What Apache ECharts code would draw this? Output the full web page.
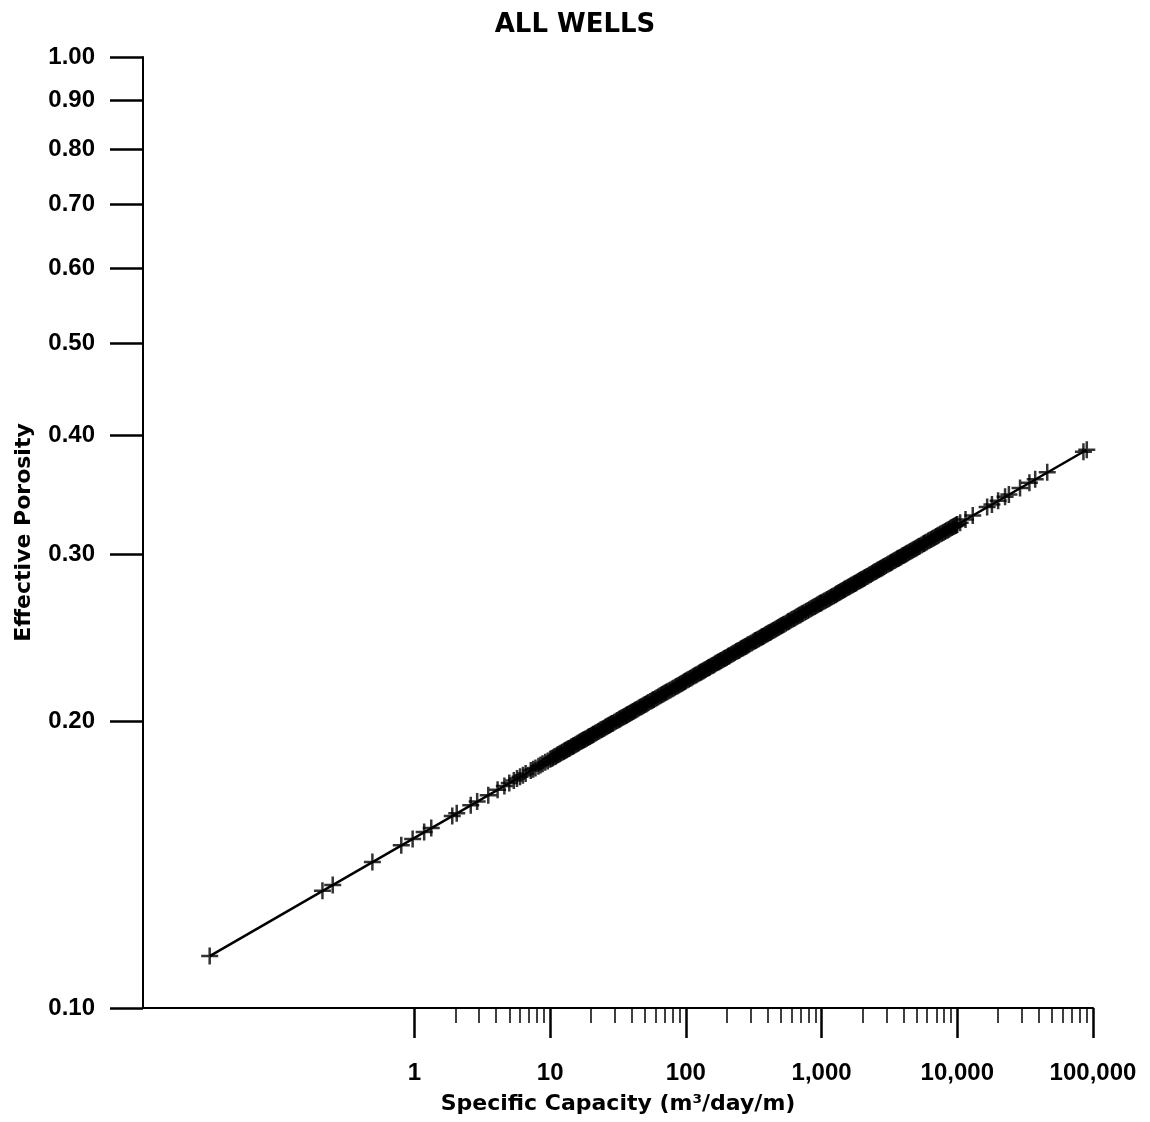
<!DOCTYPE html>
<html>
<head>
<meta charset="utf-8">
<script src="https://cdn.jsdelivr.net/npm/echarts@6/dist/echarts.min.js"></script>
<style>
  html, body { margin: 0; padding: 0; background: #fff; }
  #chart { width: 1150px; height: 1122px; }
</style>
</head>
<body>
<div id="chart"></div>
<script>
// specific capacity (m3/day/m) of each well
var capacity = [
    0.031, 0.21, 0.25, 0.49, 0.8, 0.97, 1.18, 1.33, 1.9, 2.05, 2.6, 2.9, 3.5, 4.1, 4.6, 5.0, 5.4, 5.7, 6.0, 6.3, 6.6, 7.2, 7.5, 7.8, 8.2, 8.5, 8.8, 9.2, 9.6,
    10, 10.5, 11, 11.5, 12, 12.6, 13, 13.5, 14, 14.6, 15, 15.7, 16.3, 17, 17.6, 18.2, 19, 19.6, 20.4, 21, 22, 23, 24, 25, 26, 27, 28, 29,
    30.5, 32, 33, 34.5, 36, 37, 38.5, 40, 41.5, 43, 45, 47, 49, 51, 53, 56, 58, 61, 64, 67, 70, 73, 77, 81, 85, 89, 93, 97,
    100, 105, 110, 115, 120, 126, 130, 135, 140, 146, 150, 157, 163, 170, 176, 182, 190, 196, 204, 210, 220, 230, 240, 250, 260, 270, 280, 290,
    305, 320, 330, 345, 360, 370, 385, 400, 415, 430, 450, 470, 490, 510, 530, 560, 580, 610, 640, 670, 700, 730, 770, 810, 850, 890, 930, 970,
    1000, 1050, 1100, 1150, 1200, 1260, 1300, 1350, 1400, 1460, 1500, 1570, 1630, 1700, 1760, 1820, 1900, 1960, 2040, 2100, 2200, 2300, 2400, 2500, 2600, 2700, 2800, 2900,
    3050, 3200, 3300, 3450, 3600, 3700, 3850, 4000, 4150, 4300, 4500, 4700, 4900, 5100, 5300, 5600, 5800, 6100, 6400, 6700, 7000, 7300, 7700, 8100, 8500, 8900, 9300, 9700,
    10000, 10500, 11500, 13000, 16600, 18000, 20000, 22500, 24000, 29000, 34000, 37500, 46000, 85000, 90000
];
// effective porosity of each well
var porosity = [
    0.1134, 0.1328, 0.1347, 0.1424, 0.1483, 0.1506, 0.1531, 0.1546, 0.1592, 0.1602, 0.1634, 0.1649, 0.1674, 0.1696, 0.1712, 0.1724, 0.1735, 0.1743, 0.1750, 0.1757, 0.1764, 0.1777, 0.1783, 0.1788, 0.1796, 0.1801, 0.1806, 0.1813, 0.1819,
    0.1826, 0.1833, 0.1840, 0.1847, 0.1854, 0.1861, 0.1866, 0.1872, 0.1877, 0.1884, 0.1888, 0.1895, 0.1901, 0.1908, 0.1913, 0.1918, 0.1925, 0.1930, 0.1936, 0.1941, 0.1949, 0.1956, 0.1963, 0.1969, 0.1976, 0.1982, 0.1988, 0.1993,
    0.2002, 0.2010, 0.2015, 0.2022, 0.2029, 0.2034, 0.2040, 0.2047, 0.2053, 0.2059, 0.2067, 0.2074, 0.2081, 0.2088, 0.2095, 0.2104, 0.2111, 0.2119, 0.2128, 0.2136, 0.2144, 0.2151, 0.2160, 0.2169, 0.2178, 0.2186, 0.2194, 0.2202,
    0.2208, 0.2217, 0.2225, 0.2234, 0.2241, 0.2250, 0.2256, 0.2263, 0.2270, 0.2278, 0.2283, 0.2292, 0.2299, 0.2307, 0.2313, 0.2320, 0.2328, 0.2334, 0.2342, 0.2347, 0.2356, 0.2365, 0.2373, 0.2381, 0.2389, 0.2396, 0.2403, 0.2410,
    0.2420, 0.2430, 0.2436, 0.2445, 0.2454, 0.2459, 0.2467, 0.2475, 0.2483, 0.2490, 0.2499, 0.2508, 0.2517, 0.2525, 0.2533, 0.2545, 0.2552, 0.2563, 0.2573, 0.2583, 0.2592, 0.2601, 0.2612, 0.2623, 0.2634, 0.2644, 0.2653, 0.2663,
    0.2668, 0.2679, 0.2689, 0.2699, 0.2708, 0.2719, 0.2726, 0.2735, 0.2743, 0.2753, 0.2759, 0.2769, 0.2778, 0.2787, 0.2795, 0.2803, 0.2813, 0.2820, 0.2829, 0.2836, 0.2847, 0.2857, 0.2868, 0.2877, 0.2887, 0.2896, 0.2904, 0.2913,
    0.2925, 0.2936, 0.2944, 0.2955, 0.2965, 0.2972, 0.2981, 0.2991, 0.3000, 0.3009, 0.3020, 0.3031, 0.3041, 0.3051, 0.3061, 0.3075, 0.3084, 0.3097, 0.3109, 0.3121, 0.3132, 0.3143, 0.3157, 0.3170, 0.3182, 0.3195, 0.3206, 0.3217,
    0.3225, 0.3237, 0.3263, 0.3296, 0.3363, 0.3385, 0.3415, 0.3449, 0.3467, 0.3522, 0.3568, 0.3597, 0.3658, 0.3846, 0.3864
];
// more wells in the crowded middle of the cloud
var capacityDense = [
    10.25, 10.75, 11.25, 11.75, 12.3, 12.8, 13.25, 13.75, 14.3, 14.8, 15.35, 16, 16.6, 17.3, 17.9, 18.6, 19.3, 20, 20.7, 21.5, 22.5, 23.5, 24.5, 25.5, 26.5, 27.5, 28.5, 29.7,
    31.2, 32.5, 33.7, 35.2, 36.5, 37.7, 39.2, 40.7, 42.2, 44, 46, 48, 50, 52, 54.5, 57, 59.5, 62.5, 65.5, 68.5, 71.5, 75, 79, 83, 87, 91, 95, 98.5,
    102.5, 107.5, 112.5, 117.5, 123, 128, 132.5, 137.5, 143, 148, 153.5, 160, 166, 173, 179, 186, 193, 200, 207, 215, 225, 235, 245, 255, 265, 275, 285, 297,
    312, 325, 337, 352, 365, 377, 392, 407, 422, 440, 460, 480, 500, 520, 545, 570, 595, 625, 655, 685, 715, 750, 790, 830, 870, 910, 950, 985,
    1025, 1075, 1125, 1175, 1230, 1280, 1325, 1375, 1430, 1480, 1535, 1600, 1660, 1730, 1790, 1860, 1930, 2000, 2070, 2150, 2250, 2350, 2450, 2550, 2650, 2750, 2850, 2970,
    3120, 3250, 3370, 3520, 3650, 3770, 3920, 4070, 4220, 4400, 4600, 4800, 5000, 5200, 5450, 5700, 5950, 6250, 6550, 6850, 7150, 7500, 7900, 8300, 8700, 9100, 9500, 9850
];
var porosityDense = [
    0.1830, 0.1837, 0.1844, 0.1851, 0.1858, 0.1864, 0.1869, 0.1875, 0.1881, 0.1886, 0.1892, 0.1898, 0.1905, 0.1911, 0.1916, 0.1922, 0.1928, 0.1933, 0.1939, 0.1945, 0.1953, 0.1960, 0.1966, 0.1973, 0.1979, 0.1985, 0.1991, 0.1998,
    0.2006, 0.2013, 0.2019, 0.2026, 0.2032, 0.2037, 0.2044, 0.2050, 0.2056, 0.2063, 0.2071, 0.2078, 0.2085, 0.2092, 0.2100, 0.2108, 0.2115, 0.2124, 0.2132, 0.2140, 0.2148, 0.2156, 0.2165, 0.2174, 0.2182, 0.2190, 0.2198, 0.2205,
    0.2213, 0.2221, 0.2230, 0.2238, 0.2247, 0.2254, 0.2260, 0.2267, 0.2275, 0.2281, 0.2288, 0.2295, 0.2304, 0.2311, 0.2317, 0.2324, 0.2331, 0.2337, 0.2345, 0.2352, 0.2361, 0.2370, 0.2377, 0.2386, 0.2393, 0.2400, 0.2408, 0.2416,
    0.2426, 0.2434, 0.2441, 0.2450, 0.2457, 0.2463, 0.2472, 0.2479, 0.2486, 0.2495, 0.2504, 0.2513, 0.2521, 0.2529, 0.2539, 0.2549, 0.2558, 0.2568, 0.2578, 0.2588, 0.2597, 0.2607, 0.2618, 0.2629, 0.2639, 0.2649, 0.2658, 0.2666,
    0.2674, 0.2684, 0.2694, 0.2704, 0.2714, 0.2723, 0.2731, 0.2739, 0.2748, 0.2756, 0.2764, 0.2773, 0.2783, 0.2792, 0.2799, 0.2808, 0.2817, 0.2824, 0.2833, 0.2842, 0.2853, 0.2864, 0.2873, 0.2883, 0.2891, 0.2900, 0.2909, 0.2919,
    0.2931, 0.2941, 0.2949, 0.2960, 0.2969, 0.2976, 0.2987, 0.2995, 0.3004, 0.3015, 0.3026, 0.3036, 0.3046, 0.3056, 0.3068, 0.3080, 0.3091, 0.3103, 0.3115, 0.3127, 0.3138, 0.3150, 0.3163, 0.3176, 0.3188, 0.3200, 0.3211, 0.3221
];
// fitted line end points
var fitCapacity = [0.031, 90000];
var fitPorosity = [0.1134, 0.3864];

var xMajorTicks = [1, 10, 100, 1000, 10000, 100000];
var xMinorTicks = [
    2, 3, 4, 5, 6, 7, 8, 9,
    20, 30, 40, 50, 60, 70, 80, 90,
    200, 300, 400, 500, 600, 700, 800, 900,
    2000, 3000, 4000, 5000, 6000, 7000, 8000, 9000,
    20000, 30000, 40000, 50000, 60000, 70000, 80000, 90000
];
var yTicks = [0.1, 0.2, 0.3, 0.4, 0.5, 0.6, 0.7, 0.8, 0.9, 1.0];

var font = '"Liberation Sans", Arial, sans-serif';
var wideFont = '"DejaVu Sans", "Liberation Sans", sans-serif';

var wells = capacity.map(function (c, i) { return [c, porosity[i]]; })
    .concat(capacityDense.map(function (c, i) { return [c, porosityDense[i]]; }));
var fit = fitCapacity.map(function (c, i) { return [c, fitPorosity[i]]; });

var chart = echarts.init(document.getElementById('chart'));

chart.setOption({
    backgroundColor: '#fff',
    animation: false,
    title: {
        text: 'ALL WELLS',
        left: 'center',
        top: 7,
        textStyle: { fontFamily: wideFont, fontSize: 26, fontWeight: 'bold', color: '#000' }
    },
    grid: { left: 143, right: 57, top: 57, bottom: 114, outerBoundsMode: 'none' },
    xAxis: [{
        type: 'log',
        logBase: 10,
        min: 0.01,
        max: 100000,
        name: 'Specific Capacity (m\u00b3/day/m)',
        nameLocation: 'middle',
        nameGap: 85,
        nameTextStyle: { fontFamily: wideFont, fontSize: 22, fontWeight: 'bold', color: '#000' },
        axisLine: { lineStyle: { color: '#000', width: 2 } },
        axisTick: { customValues: xMajorTicks, length: 30, lineStyle: { color: '#000', width: 2.5 } },
        axisLabel: {
            customValues: xMajorTicks,
            margin: 53,
            fontFamily: font, fontSize: 24, fontWeight: 'bold', color: '#000',
            formatter: function (v) { return Math.round(v).toLocaleString('en-US'); }
        },
        splitLine: { show: false }
    }, {
        type: 'log',
        logBase: 10,
        min: 0.01,
        max: 100000,
        position: 'bottom',
        axisLine: { show: false },
        axisTick: { customValues: xMinorTicks, length: 15, lineStyle: { color: '#000', width: 1.5 } },
        axisLabel: { show: false },
        splitLine: { show: false }
    }],
    yAxis: {
        type: 'log',
        logBase: 10,
        min: 0.1,
        max: 1,
        name: 'Effective Porosity',
        nameLocation: 'middle',
        nameGap: 108,
        nameRotate: 90,
        nameTextStyle: { fontFamily: wideFont, fontSize: 22, fontWeight: 'bold', color: '#000' },
        axisLine: { lineStyle: { color: '#000', width: 2 } },
        axisTick: { customValues: yTicks, length: 33, lineStyle: { color: '#000', width: 2.5 } },
        axisLabel: {
            customValues: yTicks,
            margin: 48,
            fontFamily: font, fontSize: 24, fontWeight: 'bold', color: '#000',
            formatter: function (v) { return v.toFixed(2); }
        },
        splitLine: { show: false }
    },
    series: [{
        type: 'line',
        data: fit,
        showSymbol: false,
        lineStyle: { color: '#000', width: 2.5 },
        z: 2
    }, {
        type: 'scatter',
        data: wells,
        symbol: 'path://M0,8H16M8,0V16',
        symbolSize: 17,
        itemStyle: { color: 'none', borderColor: '#000', borderWidth: 2.5 },
        z: 3
    }]
});
</script>
</body>
</html>
